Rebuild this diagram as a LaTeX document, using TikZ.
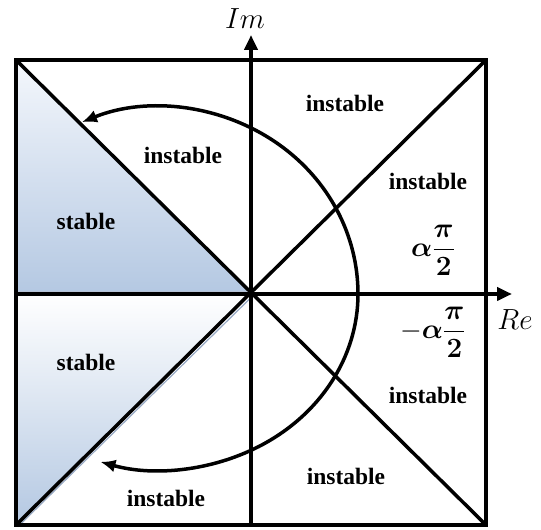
\documentclass[tikz,border=0pt]{standalone}
\usepackage[no-math]{fontspec}
\setmainfont{Liberation Serif}
\usepackage{amsmath,bm,graphicx}
\usetikzlibrary{arrows.meta,calc}
\definecolor{stabdark}{RGB}{180,200,226}
\definecolor{stablight}{RGB}{244,247,252}
\definecolor{shadowc}{RGB}{150,168,195}
\tikzset{
  frameline/.style={line width=4.5pt, line join=miter},
  axisline/.style={line width=4pt, -{Triangle[length=15pt,width=13pt]}},
  diagline/.style={line width=3.5pt},
  arcline/.style={line width=3.5pt, {Latex[length=15pt,width=13pt]}-{Latex[length=15pt,width=13pt]}},
  region/.style={font=\fontsize{23.5}{28}\selectfont\bfseries, anchor=base, inner sep=0pt},
  anglelab/.style={font=\Huge, inner sep=0pt},
  axislab/.style={font=\Huge, inner sep=0pt}
}
\begin{document}
\begin{tikzpicture}[x=1pt,y=1pt]
\useasboundingbox (0,0) rectangle (541,530);
% key points
\coordinate (O) at (251,236);
\coordinate (TL) at (16,470);
\coordinate (TR) at (486,470);
\coordinate (BL) at (16,5);
\coordinate (BR) at (486,5);
\coordinate (L) at (16,236);
\coordinate (B) at (251,5);
\coordinate (Ttip) at (251,495);
\coordinate (Rtip) at (512,236);
\coordinate (C) at (160,236);
% stable regions
\shade[top color=stablight, bottom color=stabdark] (TL) -- (O) -- (L) -- cycle;
\shade[top color=white, bottom color=stabdark] (L) -- (O) -- (BL) -- cycle;
\draw[shadowc, line width=1.2pt] ($(O)+(1.8,-1.8)$) -- ($(BL)+(1.8,-1.8)$);
\draw[shadowc!70, line width=1.5pt] ($(L)+(0,2.5)$) -- ($(O)+(-2,2.5)$);
% diagonals
\draw[diagline] (TL) -- (BR);
\draw[diagline] (TR) -- (BL);
% frame
\draw[frameline] (BL) rectangle (TR);
% axes
\draw[axisline] (B) -- (Ttip);
\draw[axisline] (L) -- (Rtip);
% arc
\draw[arcline] ([shift={(C)}]113.2:198pt and 187pt)
  arc[start angle=113.2, end angle=0, x radius=198pt, y radius=187pt]
  arc[start angle=0, end angle=-107.5, x radius=198pt, y radius=176pt];
% labels
\node[axislab] (im) at (245,511) {\scalebox{1.17}{$Im$}};
\node[axislab] (re) at (515,210) {\scalebox{1.17}{$Re$}};
\node[region] (i1) at (345,418) {instable};
\node[region] (i2) at (183,366) {instable};
\node[region] (i3) at (428,340) {instable};
\node[region] (s1) at (86,300) {stable};
\node[region] (s2) at (86,159) {stable};
\node[region] (i4) at (428,126) {instable};
\node[region] (i5) at (346,45) {instable};
\node[region] (i6) at (166,23) {instable};
\node[anglelab, anchor=center] (a1) at (433,280) {\scalebox{1.12}{$\displaystyle\bm{\alpha}\frac{\bm{\pi}}{\bm{2}}$}};
\node[anglelab, anchor=center] (a2) at (433,198) {\scalebox{1.12}{$\displaystyle-\bm{\alpha}\frac{\bm{\pi}}{\bm{2}}$}};
\end{tikzpicture}
\end{document}
